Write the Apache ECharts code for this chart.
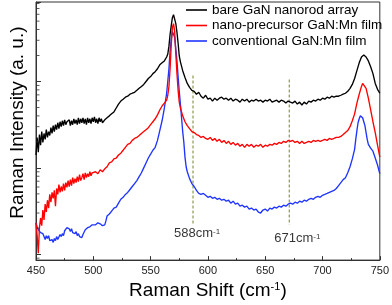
<!DOCTYPE html>
<html><head><meta charset="utf-8">
<script src="https://cdn.jsdelivr.net/npm/echarts@6/dist/echarts.min.js"></script>
<style>html,body{margin:0;padding:0;background:#fff}#c{width:392px;height:305px}</style>
</head><body><div id="c"></div>
<script>
// ---- data ----
const xTicks = [450, 500, 550, 600, 650, 700, 750];
const seriesNames = ['bare GaN nanorod array', 'nano-precursor GaN:Mn film', 'conventional GaN:Mn film'];
const black = [[450,141],[451,225],[452,152],[453,243],[454,183],[455,263],[456,197],[457,250],[458,214],[459,277],[460,225],[461,263],[462,237],[463,292],[464,250],[465,308],[466,263],[467,316],[468,277],[469,333],[470,285],[471,342],[472,300],[473,351],[474,308],[475,360],[476,316],[477,342],[478,325],[479,360],[480,308],[481,351],[482,316],[483,370],[484,325],[485,360],[486,316],[487,380],[488,325],[489,370],[490,333],[491,380],[492,325],[493,370],[494,316],[495,380],[496,333],[497,370],[498,325],[499,380],[500,342],[501,390],[502,333],[503,370],[504,325],[505,380],[506,342],[507,370],[508,333],[510,360],[512,380],[514,400],[516,422],[518,444],[520,493],[522,548],[524,593],[526,624],[528,658],[530,675],[532,712],[534,731],[536,750],[538,790],[540,833],[542,877],[544,924],[546,1000],[548,1082],[550,1140],[552,1233],[554,1299],[556,1405],[558,1560],[560,1644],[562,1732],[564,1923],[565,2080],[566,2565],[567,3511],[568,4443],[569,5478],[570,5925],[571,5623],[572,4682],[573,3700],[574,2774],[575,1974],[576,1688],[578,1334],[580,1110],[582,949],[584,855],[586,790],[588,770],[590,712],[592,750],[594,675],[596,641],[598,693],[600,624],[602,641],[604,593],[606,641],[608,608],[610,641],[612,658],[614,624],[616,641],[618,608],[620,641],[622,593],[624,624],[626,608],[628,577],[630,624],[632,593],[634,624],[636,577],[638,608],[640,593],[642,624],[644,593],[646,608],[648,577],[650,608],[652,593],[654,624],[656,577],[658,593],[660,608],[662,577],[664,608],[666,593],[668,562],[670,593],[672,577],[674,562],[676,593],[678,548],[680,577],[682,534],[684,577],[686,548],[688,593],[690,577],[692,608],[694,593],[696,624],[698,608],[700,641],[702,624],[704,658],[706,641],[708,675],[710,658],[712,675],[714,675],[716,693],[718,712],[720,731],[722,770],[724,833],[726,924],[728,1082],[730,1334],[732,1644],[734,1923],[736,2027],[738,1923],[740,1732],[742,1481],[744,1233],[746,949],[748,811],[750,731]];
const red = [[450,23.1],[451,16.4],[452,10.3],[453,20.3],[454,26.3],[455,21.4],[456,32.5],[457,25.0],[458,38.0],[459,30.8],[460,42.2],[461,34.2],[462,49.3],[463,40.0],[464,52.0],[465,44.4],[466,54.8],[467,36.0],[468,57.7],[469,49.3],[470,64.1],[471,52.0],[472,60.8],[473,53.4],[474,65.8],[475,54.8],[476,67.5],[477,59.3],[478,71.2],[479,60.8],[480,73.1],[481,62.4],[482,77.0],[483,65.8],[484,75.0],[485,67.5],[486,79.0],[487,69.3],[488,83.3],[489,71.2],[490,77.0],[491,85.5],[492,73.1],[493,87.7],[494,77.0],[495,85.5],[496,79.0],[497,90.1],[498,81.1],[499,87.7],[500,83.3],[502,90.1],[504,85.5],[506,94.9],[508,90.1],[510,97.4],[512,103],[514,114],[516,117],[518,127],[520,130],[522,141],[524,148],[526,160],[528,173],[530,187],[532,192],[534,208],[536,219],[538,225],[540,237],[542,250],[544,263],[546,277],[548,292],[550,316],[552,342],[554,370],[556,411],[558,468],[560,520],[562,562],[564,608],[565,693],[566,877],[567,1405],[568,2633],[569,4217],[570,4682],[571,3798],[572,2080],[573,1233],[574,790],[575,577],[576,493],[578,400],[580,342],[582,308],[584,285],[586,263],[588,256],[590,243],[592,237],[594,225],[596,231],[598,219],[600,214],[602,225],[604,208],[606,219],[608,203],[610,214],[612,197],[614,208],[616,192],[618,203],[620,187],[622,197],[624,183],[626,192],[628,178],[630,187],[632,173],[634,187],[636,178],[638,187],[640,173],[642,183],[644,178],[646,187],[648,173],[650,183],[652,178],[654,187],[656,183],[658,192],[660,187],[662,197],[664,192],[666,203],[668,197],[670,208],[672,203],[674,208],[676,197],[678,203],[680,192],[682,203],[684,192],[686,197],[688,203],[690,197],[692,208],[694,203],[696,208],[698,203],[700,208],[702,214],[704,208],[706,219],[708,214],[710,219],[712,225],[714,225],[716,231],[718,243],[720,256],[722,270],[724,300],[726,351],[728,422],[730,562],[732,712],[734,877],[735,949],[736,949],[738,833],[740,641],[742,468],[744,342],[746,256],[748,183],[750,133]];
const blue = [[450,23.1],[451,20.8],[452,19.2],[453,18.3],[454,17.8],[455,16.9],[456,17.3],[457,16.0],[458,14.8],[459,16.4],[460,15.2],[461,16.4],[462,14.4],[463,13.7],[464,14.8],[465,13.7],[466,15.2],[467,14.4],[468,16.0],[469,14.8],[470,15.6],[471,16.9],[472,16.0],[473,17.3],[474,16.4],[475,18.7],[476,19.7],[477,20.3],[478,21.4],[479,19.7],[480,18.3],[481,19.7],[482,17.8],[483,18.7],[484,17.3],[485,18.3],[486,16.4],[487,17.3],[488,16.0],[489,16.4],[490,15.6],[491,16.9],[492,17.8],[493,19.2],[494,18.7],[495,20.3],[496,19.7],[497,20.8],[498,21.4],[499,21.9],[500,22.5],[502,21.9],[504,23.1],[506,22.5],[508,21.4],[510,21.9],[511,24.3],[512,27.7],[514,29.2],[516,31.6],[518,34.2],[520,35.1],[522,39.0],[524,43.3],[526,45.6],[528,49.3],[530,52.0],[532,56.2],[534,60.8],[536,65.8],[538,71.2],[540,79.0],[542,87.7],[544,100],[546,114],[548,130],[550,144],[552,160],[554,173],[556,208],[558,270],[560,351],[562,493],[564,731],[566,1405],[567,2250],[568,3080],[569,3798],[570,4002],[571,3246],[572,2371],[573,1732],[574,1140],[575,770],[576,548],[577,380],[578,263],[579,197],[580,133],[581,103],[582,90.1],[584,75.0],[586,65.8],[588,60.8],[590,54.8],[592,50.6],[594,49.3],[596,50.6],[598,48.1],[600,45.6],[602,46.8],[604,44.4],[606,45.6],[608,43.3],[610,44.4],[612,42.2],[614,43.3],[616,41.1],[618,42.2],[620,39.0],[622,41.1],[624,38.0],[626,39.0],[628,36.0],[630,37.0],[632,35.1],[634,36.0],[636,33.3],[638,34.2],[640,32.5],[642,33.3],[644,30.8],[646,30.0],[648,32.5],[650,33.3],[652,31.6],[654,34.2],[656,33.3],[658,35.1],[660,34.2],[662,36.0],[664,35.1],[666,37.0],[668,36.0],[670,38.0],[672,39.0],[674,38.0],[676,40.0],[678,39.0],[680,41.1],[682,40.0],[684,42.2],[686,41.1],[688,43.3],[690,44.4],[692,43.3],[694,45.6],[696,46.8],[698,45.6],[700,48.1],[702,49.3],[704,50.6],[706,52.0],[708,53.4],[710,54.8],[712,57.7],[714,62.4],[716,67.5],[718,73.1],[720,77.0],[722,87.7],[724,103],[726,127],[728,164],[729,214],[730,270],[731,333],[732,370],[733,400],[734,400],[735,380],[736,342],[737,308],[738,256],[739,214],[740,187],[742,169],[744,156],[746,130],[748,108],[750,85.5]];
// guide lines: position, top value, bottom value, label number
const guideX = [587, 671];
const guideTop = [1170, 1054];
const guideBottom = [21.9, 21.9];
const guideLabel = ['588', '671'];
// log-axis minor tick values
const yMinor = [9, 20, 30, 40, 50, 60, 70, 80, 90, 200, 300, 400, 500, 600, 700, 800, 900, 2000, 3000, 4000, 5000, 6000, 7000, 8000];

// ---- chart ----
const FONT = 'Arial, "Liberation Sans", sans-serif';
const lineColors = ['#000000', '#ff0000', '#1f35ff'];
const seriesData = [black, red, blue];
const chart = echarts.init(document.getElementById('c'), null, {renderer: 'canvas'});

const series = [];
seriesData.forEach((d, i) => {
  series.push({
    name: seriesNames[i], type: 'line', data: d, symbol: 'none', z: 5 - i,
    lineStyle: {color: lineColors[i], width: 1.35}, itemStyle: {color: lineColors[i]}
  });
});
guideX.forEach((gx, i) => {
  series.push({
    type: 'line', data: [[gx, guideTop[i]], [gx, guideBottom[i]]], symbol: 'none', z: 1, silent: true,
    lineStyle: {color: '#8a9a48', width: 1.2, type: [3, 2]}
  });
});
series.push({
  type: 'scatter', symbolSize: 1, silent: true, z: 6,
  itemStyle: {color: 'rgba(0,0,0,0)'},
  data: guideX.map((gx, i) => ({
    value: [gx, guideBottom[i]],
    label: {show: true, position: 'bottom', distance: i === 0 ? 2 : 7, offset: [i === 0 ? 4 : 8, 0],
      formatter: '{a|' + guideLabel[i] + 'cm}{s|-1}'}
  })),
  label: {rich: {
    a: {fontFamily: FONT, fontSize: 13, color: '#000', verticalAlign: 'bottom'},
    s: {fontFamily: FONT, fontSize: 8, color: '#000', verticalAlign: 'top'}
  }}
});
series.push({
  type: 'scatter', silent: true, clip: false, z: 10,
  symbol: 'rect', symbolSize: [3, 1], symbolOffset: [2, 0],
  itemStyle: {color: '#333'},
  data: yMinor.map(v => [xTicks[0], v])
});

chart.setOption({
  animation: false,
  grid: {left: 30, right: 10, top: 2, bottom: 40, show: true, borderColor: '#333', borderWidth: 1},
  legend: {
    data: seriesNames, orient: 'vertical', left: 186, top: 3, padding: 0,
    itemGap: 1.5, itemWidth: 21, itemHeight: 1.6, icon: 'rect', selectedMode: false,
    textStyle: {fontFamily: FONT, fontSize: 13.5, color: '#000', lineHeight: 14}
  },
  xAxis: {
    type: 'value', min: xTicks[0], max: xTicks[xTicks.length - 1], interval: 50,
    name: '{a|Raman Shift (cm}{s|-1}{a|)}', nameLocation: 'middle', nameGap: 19,
    nameTextStyle: {rich: {
      a: {fontFamily: FONT, fontSize: 19, color: '#000', verticalAlign: 'bottom'},
      s: {fontFamily: FONT, fontSize: 11, color: '#000', verticalAlign: 'top'}
    }},
    axisLine: {show: true, lineStyle: {color: '#333', width: 1}},
    axisTick: {show: true, inside: true, length: 4, lineStyle: {color: '#333'}},
    minorTick: {show: true, splitNumber: 2, length: 2, lineStyle: {color: '#333'}},
    axisLabel: {fontFamily: FONT, fontSize: 11, color: '#222', margin: 5},
    splitLine: {show: false}, minorSplitLine: {show: false}
  },
  yAxis: {
    type: 'log', logBase: 10, min: 8.55, max: 8326,
    name: 'Raman Intensity (a. u.)', nameLocation: 'middle', nameGap: 9,
    nameTextStyle: {fontFamily: FONT, fontSize: 19, color: '#000', padding: [0, 0, 0, 17]},
    axisLine: {show: true, lineStyle: {color: '#333', width: 1}},
    axisTick: {show: true, inside: true, length: 5, lineStyle: {color: '#333'}},
    axisLabel: {show: false}, splitLine: {show: false}
  },
  series: series
});
</script></body></html>
